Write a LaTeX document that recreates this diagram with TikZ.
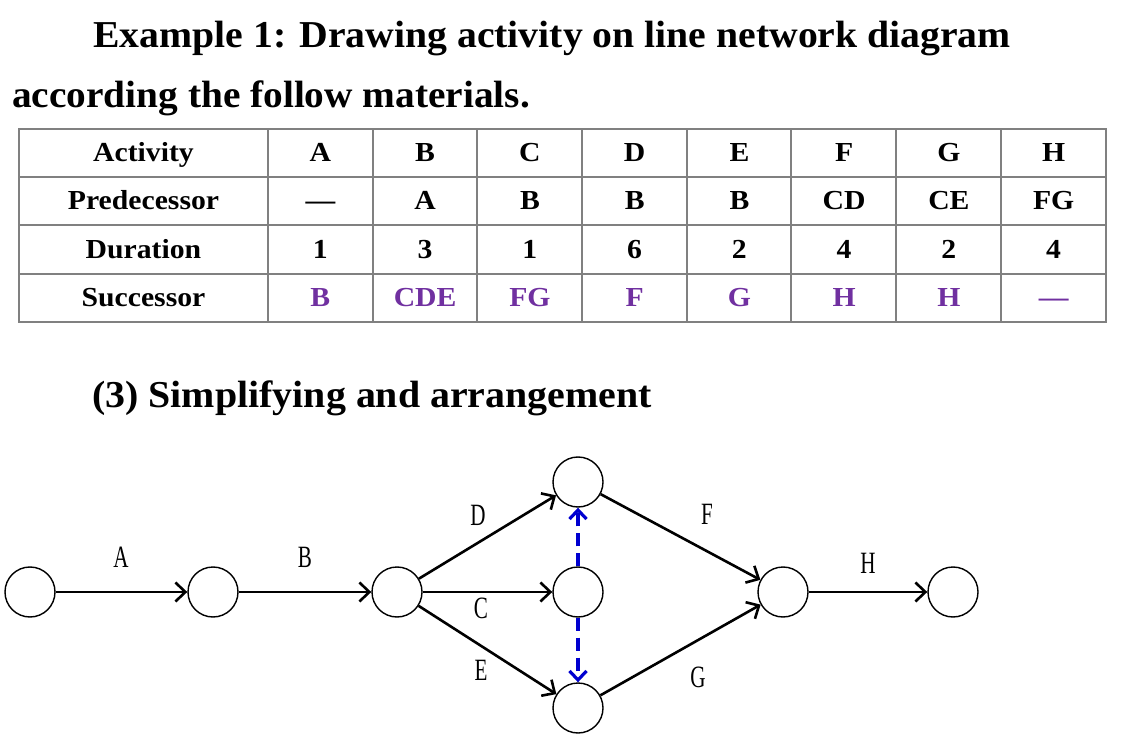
\documentclass[tikz,border=0pt]{standalone}
\usepackage{fontspec}
\setmainfont{Liberation Serif}
\usetikzlibrary{arrows.meta}
\definecolor{tgray}{HTML}{808080}
\definecolor{tpurple}{HTML}{7030A0}
\definecolor{dblue}{HTML}{0000D0}
\begin{document}
\begin{tikzpicture}[x=1pt,y=-1pt,
  ev/.style={circle,draw,line width=1.4pt,minimum size=50pt,inner sep=0pt},
  act/.style={line width=2.6pt,-{Straight Barb[length=10pt,width=19pt,line width=2.6pt]}},
  dum/.style={line width=3.2pt,draw=dblue,dash pattern=on 13pt off 7pt,-{Straight Barb[length=9pt,width=17pt,line width=3.2pt]}},
  lbl/.style={font=\fontsize{31}{31}\selectfont,xscale=0.68,inner sep=0pt,text height=21pt,text depth=0pt},
  ttl/.style={font=\fontsize{38}{38}\selectfont\bfseries,inner sep=0pt,anchor=base west},
  cell/.style={font=\fontsize{27.5}{27.5}\selectfont\bfseries,xscale=1.08,inner sep=0pt,text height=18pt,text depth=0pt},
  succ/.style={cell,text=tpurple},
  grid/.style={draw=tgray,line width=2pt}
]
\useasboundingbox (0,0) rectangle (1125,735);
% titles
\node[ttl,xscale=1.045] (t1) at (93,48) {Example 1: Drawing activity on line network diagram};
\node[ttl,xscale=1.035] (t2) at (12,108) {according the follow materials.};
\node[ttl,xscale=1.05] (t3) at (92,407) {(3) Simplifying and arrangement};
% table grid
\draw[grid] (19,129) rectangle (1106,322);
\foreach \y in {177,225,274} \draw[grid] (19,\y) -- (1106,\y);
\foreach \x in {268,373,477,582,687,791,896,1001} \draw[grid] (\x,129) -- (\x,322);
% header column
\node[cell] (h1) at (143.5,153) {Activity};
\node[cell] (h2) at (143.5,201) {Predecessor};
\node[cell] (h3) at (143.5,249.5) {Duration};
\node[cell] (h4) at (143.5,298) {Successor};
% data
\foreach \a/\p/\d/\s [count=\i from 0] in {A/—/1/B, B/A/3/CDE, C/B/1/FG, D/B/6/F, E/B/2/G, F/CD/4/H, G/CE/2/H, H/FG/4/—}{
  \pgfmathsetmacro{\cx}{320.4+104.75*\i}
  \node[cell] (a\i) at (\cx,153) {\a};
  \node[cell] (p\i) at (\cx,201) {\p};
  \node[cell] (d\i) at (\cx,249.5) {\d};
  \node[succ] (s\i) at (\cx,298) {\s};
}
% network
\node[ev] (n1) at (30,592) {};
\node[ev] (n2) at (213,592) {};
\node[ev] (n3) at (397,592) {};
\node[ev] (n4) at (578,482) {};
\node[ev] (n5) at (578,592) {};
\node[ev] (n6) at (578,708) {};
\node[ev] (n7) at (783,592) {};
\node[ev] (n8) at (953,592) {};
\draw[act] (n1) -- (n2);
\draw[act] (n2) -- (n3);
\draw[act] (n3) -- (n4);
\draw[act] (n3) -- (n5);
\draw[act] (n3) -- (n6);
\draw[act] (n4) -- (n7);
\draw[act] (n6) -- (n7);
\draw[act] (n7) -- (n8);
\draw[dum] (n5) -- (n4);
\draw[dum] (n5) -- (n6);
\node[lbl] (lA) at (121,557) {A};
\node[lbl] (lB) at (305,557) {B};
\node[lbl] (lD) at (478,515) {D};
\node[lbl] (lC) at (481,608) {C};
\node[lbl] (lE) at (481,670) {E};
\node[lbl] (lF) at (707,514) {F};
\node[lbl] (lG) at (698,677) {G};
\node[lbl] (lH) at (868,563) {H};
\end{tikzpicture}
\end{document}
